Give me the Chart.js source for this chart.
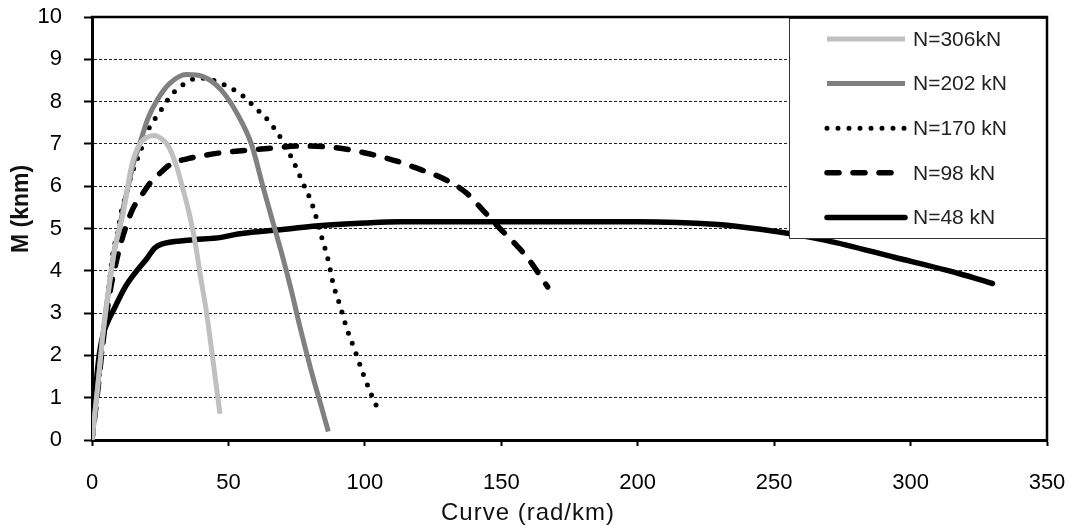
<!DOCTYPE html>
<html>
<head>
<meta charset="utf-8">
<script src="https://cdn.jsdelivr.net/npm/chart.js@4.4.1/dist/chart.umd.min.js"></script>
<style>
  html, body { margin: 0; padding: 0; background: #fff; }
  #wrap { width: 1075px; height: 526px; }
</style>
</head>
<body>
<div id="wrap"><canvas id="chart" width="1075" height="526"></canvas></div>
<script>
// Moment vs curvature for five axial loads
const xTicks = [0, 50, 100, 150, 200, 250, 300, 350];
const yTicks = [0, 1, 2, 3, 4, 5, 6, 7, 8, 9, 10];
const seriesLabels = ['N=306kN', 'N=202 kN', 'N=170 kN', 'N=98 kN', 'N=48 kN'];

const n306Curve  = [0, 2, 4, 6, 8.3, 10, 11.4, 12.6, 13.8, 15.6, 18.1, 20.5, 23, 25.5, 27.8, 30.9, 33.3, 35.8, 38.2, 39.6, 42, 44.5, 46.9];
const n306Moment = [0, 1.2, 2.5, 3.5, 4.5, 5.0, 5.35, 5.78, 6.26, 6.73, 7.05, 7.17, 7.2, 7.12, 6.97, 6.49, 5.94, 5.31, 4.52, 3.93, 3.0, 1.8, 0.62];

const n202Curve  = [0, 2, 4, 6, 8.3, 10.1, 11.4, 13.2, 15, 17.5, 20.5, 24.2, 28.5, 34.6, 40.7, 47.4, 53.5, 58.4, 62.7, 66.3, 69.4, 72.8, 76.5, 80.5, 84, 86.6];
const n202Moment = [0, 1.2, 2.5, 3.5, 4.52, 4.99, 5.47, 5.98, 6.49, 7.0, 7.6, 8.07, 8.43, 8.64, 8.59, 8.27, 7.68, 7.0, 5.98, 5.15, 4.44, 3.6, 2.6, 1.6, 0.8, 0.2];

const n170Curve  = [0, 2, 4, 6, 7.7, 9.5, 10.7, 12.6, 14.4, 16.2, 18.1, 21.1, 23.6, 26, 28.5, 31.5, 35.2, 38.8, 43.1, 47.4, 51.1, 55, 58.4, 61.4, 64.5, 66.9, 69.4, 73.7, 77.4, 80.6, 84.2, 86.6, 88.4, 90.9, 93.4, 96.4, 99.4, 102.6, 104.3];
const n170Moment = [0, 1.1, 2.3, 3.5, 4.44, 4.91, 5.39, 5.82, 6.26, 6.57, 6.89, 7.4, 7.64, 7.87, 8.11, 8.31, 8.47, 8.56, 8.53, 8.43, 8.31, 8.15, 7.95, 7.76, 7.56, 7.36, 7.12, 6.6, 6.06, 5.59, 4.79, 4.24, 3.69, 3.18, 2.63, 2.11, 1.56, 1.04, 0.8];

const n98Curve  = [0, 2, 4, 6.6, 8.5, 10.7, 12.6, 15, 18.1, 21.1, 24.8, 29.1, 35.2, 41.3, 49.8, 57.2, 64.5, 76, 88, 100.6, 112.8, 118, 130, 137.4, 143.3, 149.5, 155.6, 159.7, 167];
const n98Moment = [0, 1.1, 2.3, 3.5, 4.1, 4.68, 5.07, 5.47, 5.78, 6.06, 6.3, 6.53, 6.65, 6.73, 6.81, 6.85, 6.89, 6.95, 6.92, 6.78, 6.57, 6.45, 6.14, 5.83, 5.43, 5.0, 4.6, 4.3, 3.62];

const n48Curve  = [0, 1.1, 2.7, 4.1, 5.4, 7.8, 12.1, 16.4, 20, 23, 25.5, 35.2, 47.4, 53.5, 71.8, 82, 100, 113, 130, 200, 228, 245, 269, 294, 318, 330];
const n48Moment = [0, 1.0, 2.03, 2.5, 2.74, 3.06, 3.61, 4.0, 4.28, 4.54, 4.63, 4.72, 4.79, 4.87, 4.99, 5.06, 5.13, 5.16, 5.16, 5.16, 5.1, 4.98, 4.72, 4.32, 3.93, 3.7];

const FONT = '"Liberation Sans", Arial, sans-serif';

function toPoints(xs, ys) {
  return xs.map((x, i) => ({ x, y: ys[i] }));
}

const lineBase = {
  pointRadius: 0,
  fill: false,
  cubicInterpolationMode: 'monotone',
  borderJoinStyle: 'round',
};

const datasets = [
  { ...lineBase, label: seriesLabels[0], data: toPoints(n306Curve, n306Moment), borderColor: '#c0c0c0', borderWidth: 5, borderCapStyle: 'butt' },
  { ...lineBase, label: seriesLabels[1], data: toPoints(n202Curve, n202Moment), borderColor: '#808080', borderWidth: 5, borderCapStyle: 'butt' },
  { ...lineBase, label: seriesLabels[2], data: toPoints(n170Curve, n170Moment), borderColor: '#000000', borderWidth: 5, borderDash: [0, 11], borderCapStyle: 'round' },
  { ...lineBase, label: seriesLabels[3], data: toPoints(n98Curve, n98Moment), borderColor: '#000000', borderWidth: 5.5, borderDash: [12, 14], borderDashOffset: 6, borderCapStyle: 'round' },
  { ...lineBase, label: seriesLabels[4], data: toPoints(n48Curve, n48Moment), borderColor: '#000000', borderWidth: 5.5, borderCapStyle: 'round' },
];

// legend box in the top right corner plus the top/right frame lines
const boxLegend = {
  id: 'boxLegend',
  afterDatasetsDraw(chart) {
    const { ctx, chartArea } = chart;
    const w = 258, h = 221;
    const left = chartArea.right - w, top = chartArea.top + 1;
    ctx.save();
    ctx.fillStyle = '#fff';
    ctx.fillRect(left, top, w, h);
    ctx.strokeStyle = '#333';
    ctx.lineWidth = 1;
    ctx.strokeRect(left + 0.5, top + 0.5, w - 1, h - 1);
    chart.data.datasets.forEach((ds, i) => {
      const y = top + 21 + i * 44.6;
      ctx.beginPath();
      ctx.strokeStyle = ds.borderColor;
      ctx.lineWidth = ds.borderWidth;
      ctx.setLineDash(ds.borderDash || []);
      ctx.lineDashOffset = 0;
      ctx.lineCap = ds.borderCapStyle || 'butt';
      ctx.moveTo(left + 38, y);
      ctx.lineTo(left + 116, y);
      ctx.stroke();
      ctx.setLineDash([]);
      ctx.fillStyle = '#222';
      ctx.font = '21px ' + FONT;
      ctx.textAlign = 'left';
      ctx.textBaseline = 'middle';
      ctx.fillText(ds.label, left + 124, y + 1);
    });
    // frame top + right
    ctx.strokeStyle = '#000';
    ctx.lineWidth = 2.5;
    ctx.lineCap = 'square';
    ctx.beginPath();
    ctx.moveTo(chartArea.left, chartArea.top);
    ctx.lineTo(chartArea.right, chartArea.top);
    ctx.lineTo(chartArea.right, chartArea.bottom);
    ctx.stroke();
    ctx.restore();
  },
  afterDraw(chart) {
    // axis titles sit off-centre in the original, so place them by hand
    const { ctx } = chart;
    ctx.save();
    ctx.fillStyle = '#111';
    ctx.font = '24px ' + FONT;
    ctx.textAlign = 'center';
    ctx.textBaseline = 'alphabetic';
    ctx.letterSpacing = '1px';
    ctx.fillText('Curve (rad/km)', 528, 520);
    ctx.letterSpacing = '0px';
    ctx.translate(28, 209);
    ctx.rotate(-Math.PI / 2);
    ctx.font = 'bold 23px ' + FONT;
    ctx.fillText('M (knm)', 0, 0);
    ctx.restore();
  },
};

new Chart(document.getElementById('chart'), {
  type: 'line',
  data: { datasets },
  plugins: [boxLegend],
  options: {
    responsive: false,
    devicePixelRatio: 1,
    animation: false,
    events: [],
    layout: { padding: { top: 17, right: 28, left: 0, bottom: 0 } },
    plugins: { legend: { display: false }, tooltip: { enabled: false } },
    scales: {
      x: {
        type: 'linear',
        min: 0,
        max: 350,
        afterBuildTicks(scale) { scale.ticks = xTicks.map((v) => ({ value: v })); },
        afterFit(scale) {
          scale.height = 86;
          scale.paddingLeft = 0;
          scale.paddingRight = 0;
        },
        grid: { drawOnChartArea: false, drawTicks: true, tickLength: 6, tickColor: '#000', tickWidth: 2, tickBorderDash: [] },
        border: { display: true, color: '#000', width: 3 },
        ticks: { color: '#000', font: { family: FONT, size: 22 }, padding: 24, maxRotation: 0 },
      },
      y: {
        type: 'linear',
        min: 0,
        max: 10,
        afterBuildTicks(scale) { scale.ticks = yTicks.map((v) => ({ value: v })); },
        afterFit(scale) {
          scale.width = 92;
          scale.paddingTop = 0;
          scale.paddingBottom = 0;
        },
        grid: { color: '#222', lineWidth: 1, drawTicks: true, tickLength: 8, tickColor: '#000', tickWidth: 2, tickBorderDash: [] },
        border: { display: true, color: '#000', width: 3, dash: [3, 2] },
        ticks: { color: '#000', font: { family: FONT, size: 22 }, padding: 22 },
      },
    },
  },
});
</script>
</body>
</html>
